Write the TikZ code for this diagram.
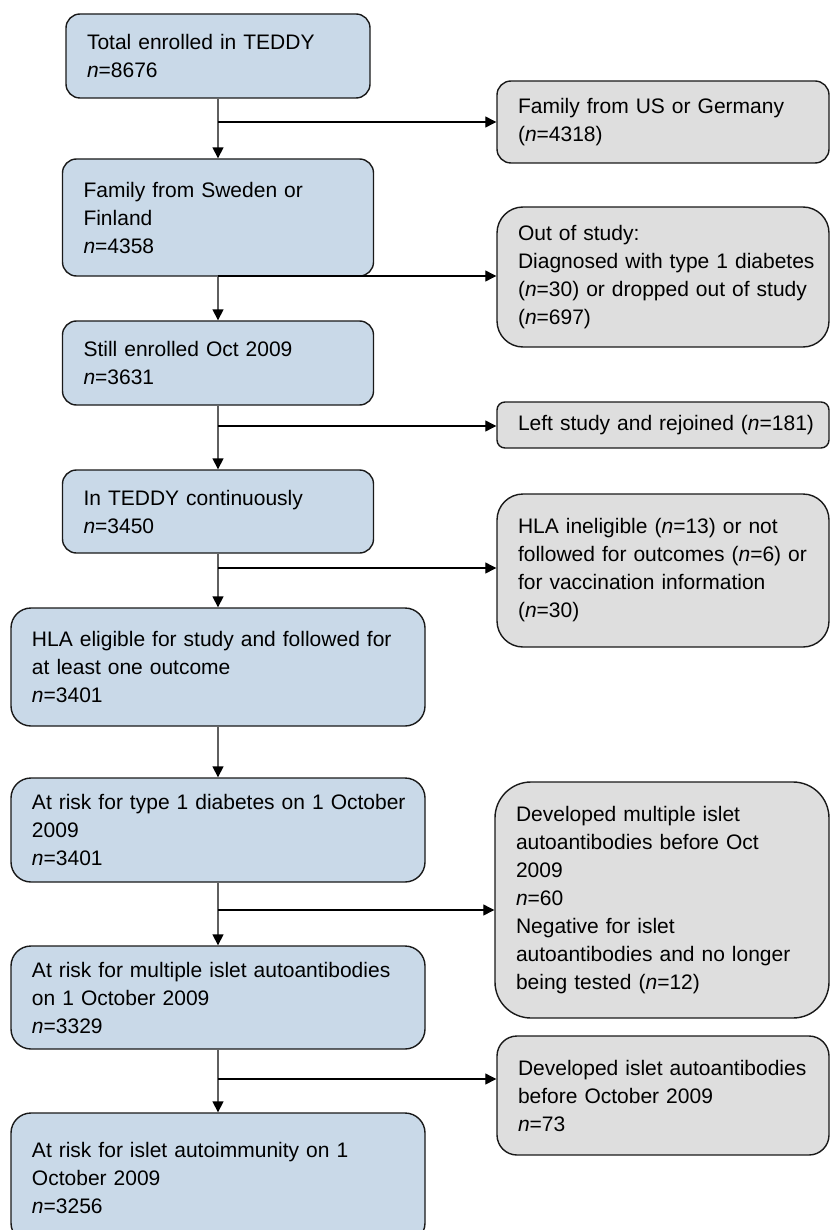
\documentclass[tikz,border=0pt]{standalone}
\usepackage{fontspec}
\setmainfont{Liberation Sans}
\usetikzlibrary{arrows.meta}
\definecolor{boxblue}{RGB}{201,217,232}
\definecolor{boxgrey}{RGB}{222,222,222}
\definecolor{linegrey}{RGB}{95,95,95}
\tikzset{mainnode/.style={draw=black!90, line width=0.7pt, fill=boxblue, rounded corners=7pt,
    align=left, text width=134.5pt, inner xsep=10.5pt, font=\fontsize{10.5}{14}\selectfont},
  widenode/.style={mainnode, text width=186pt, rounded corners=10pt},
  exitnode/.style={mainnode, fill=boxgrey, text width=145pt},
  downarrow/.style={draw=linegrey, line width=0.8pt, -{Triangle[length=5.5pt,width=5.5pt,color=black]}},
  sidearrow/.style={draw=black, line width=0.6pt, -{Triangle[length=5.5pt,width=5.5pt]}}}

\begin{document}
\begin{tikzpicture}[x=0.5pt, y=-0.5pt]

\useasboundingbox (0,0) rectangle (829,1230);

% main column

\node [style = mainnode, text width=131pt, minimum height=42pt] (total) at (218,56)
  {Total enrolled in TEDDY\\\textit{n}=8676};
\node [style = mainnode, minimum height=58.5pt] (sweden) at (218,217.5)
  {Family from Sweden or\\Finland\\\textit{n}=4358};
\node [style = mainnode, minimum height=42pt] (still) at (218,363)
  {Still enrolled Oct 2009\\\textit{n}=3631};
\node [style = mainnode, minimum height=41.5pt] (teddy) at (218,511.5)
  {In TEDDY continuously\\\textit{n}=3450};
\node [style = widenode, minimum height=59pt] (hla) at (218,667)
  {HLA eligible for study and followed for\\at least one outcome\\\textit{n}=3401};
\node [style = widenode, minimum height=52pt] (riskdm) at (218,830)
  {\mbox{At risk for type 1 diabetes on 1 October}\\2009\\\textit{n}=3401};
\node [style = widenode, minimum height=51.5pt] (riskmulti) at (218,997.5)
  {At risk for multiple islet autoantibodies\\on 1 October 2009\\\textit{n}=3329};
\node [style = widenode, minimum height=65pt] (riskislet) at (218,1178)
  {At risk for islet autoimmunity on 1\\October 2009\\\textit{n}=3256};

% side boxes

\node [style = exitnode, minimum height=41pt] (usger) at (663,122)
  {Family from US or Germany\\(\textit{n}=4318)};
\node [style = exitnode, minimum height=70pt, rounded corners=13pt] (outstudy) at (663,277)
  {Out of study:\\\mbox{Diagnosed with type 1 diabetes}\\\mbox{(\textit{n}=30) or dropped out of study}\\(\textit{n}=697)};
\node [style = exitnode, minimum height=23pt, rounded corners=4pt] (leftstudy) at (663,425)
  {\mbox{Left study and rejoined (\textit{n}=181)}};
\node [style = exitnode, minimum height=76.5pt, rounded corners=13pt] (inelig) at (663,570.5)
  {HLA ineligible (\textit{n}=13) or not\\\mbox{followed for outcomes (\textit{n}=6) or}\\for vaccination information\\(\textit{n}=30)};
\node [style = exitnode, text width=146pt, minimum height=118pt, rounded corners=18pt] (devmulti) at (662,900)
  {Developed multiple islet\\autoantibodies before Oct\\2009\\\textit{n}=60\\Negative for islet\\autoantibodies and no longer\\being tested (\textit{n}=12)};
\node [style = exitnode, minimum height=59.5pt, rounded corners=10pt] (devislet) at (663,1095.5)
  {\mbox{Developed islet autoantibodies}\\before October 2009\\\textit{n}=73};

% branch points

\coordinate (b1) at (218,122);
\coordinate (b2) at (218,276);
\coordinate (b3) at (218,426);
\coordinate (b4) at (218,568);
\coordinate (b5) at (218,910);
\coordinate (b6) at (218,1079);

% down edges

\draw [downarrow] (total) to (sweden);
\draw [downarrow] (sweden) to (still);
\draw [downarrow] (still) to (teddy);
\draw [downarrow] (teddy) to (hla);
\draw [downarrow] (hla) to (riskdm);
\draw [downarrow] (riskdm) to (riskmulti);
\draw [downarrow] (riskmulti) to (riskislet);

% side edges

\draw [sidearrow] (b1) to (b1 -| usger.west);
\draw [sidearrow] (b2) to (b2 -| outstudy.west);
\draw [sidearrow] (b3) to (b3 -| leftstudy.west);
\draw [sidearrow] (b4) to (b4 -| inelig.west);
\draw [sidearrow] (b5) to (b5 -| devmulti.west);
\draw [sidearrow] (b6) to (b6 -| devislet.west);

\end{tikzpicture}
\end{document}
